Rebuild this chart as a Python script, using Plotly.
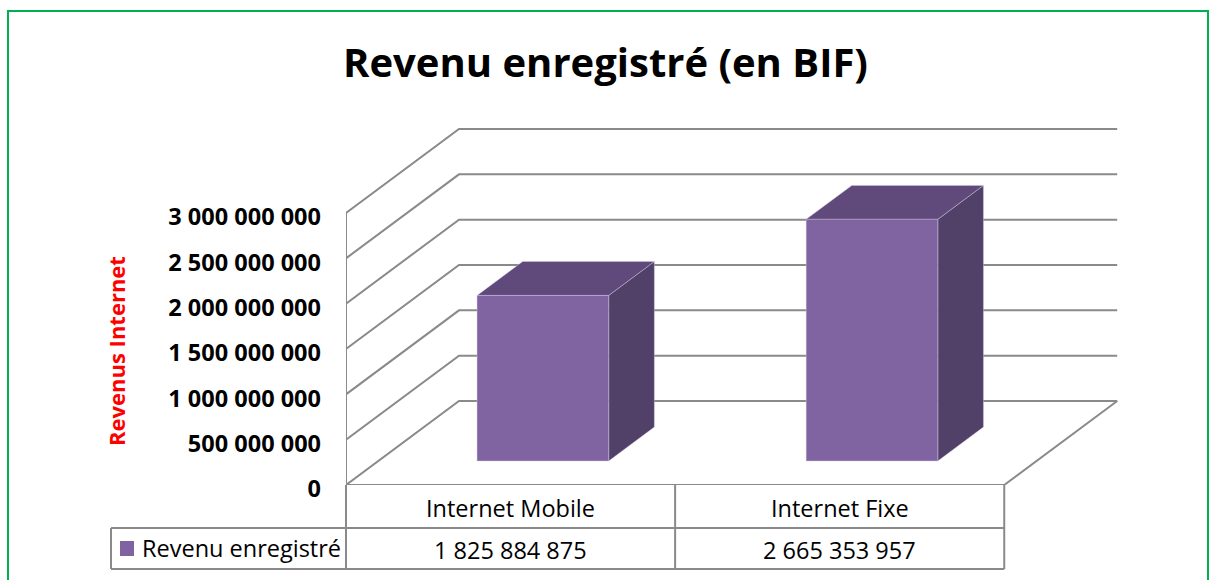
import plotly.graph_objects as go

# ---------------- data ----------------
categories = ["Internet Mobile", "Internet Fixe"]
revenue = [1825884875, 2665353957]
series_name = "Revenu enregistré"
tick_values = [0, 500000000, 1000000000, 1500000000, 2000000000, 2500000000, 3000000000]
title_text = "Revenu enregistré (en BIF)"
axis_title = "Revenus Internet"

# ---------------- layout geometry ----------------
W, H = 1211, 580
L, R, T, B = 346, 85, 120, 95
PW = W - L - R            # plot width in px
PH = H - T - B            # plot height in px
XR = 2.37                 # x range in category units
PX_PER_UNIT = PW / XR
K = 272 / 3e9             # px per value unit
YMAX = PH / K
DX = 113 / PX_PER_UNIT    # depth offset along x (category units)
DY = 84 / K               # depth offset along y (value units)
D0, D1 = 0.286, 0.69      # bar depth range (fraction of full depth)
BAR_L, BAR_R = 0.3, 0.7   # bar span within category slot

GRID = "#8A8A8A"
FRONT = "#8064A2"
TOP = "#604A7B"
SIDE = "#514068"
FONT = "Open Sans"
TXT = 23.5
LW = 2


def fmt(v):
    return f"{v:,}".replace(",", " ")


def pxx(px):
    return (px - L) / PW


def pxy(py):
    return (H - B - py) / PH


fig = go.Figure()

# walls: gridlines on left wall + back wall
gx, gy = [], []
for v in tick_values:
    gx += [0, DX, len(categories) + DX, None]
    gy += [v, v + DY, v + DY, None]
# front vertical edge of left wall
gx += [0, 0, None]
gy += [0, tick_values[-1], None]
# floor front and right edges
gx += [0, len(categories), len(categories) + DX, None]
gy += [0, 0, DY, None]
fig.add_trace(go.Scatter(x=gx, y=gy, mode="lines", line=dict(color=GRID, width=LW),
                         hoverinfo="skip", showlegend=False))

# 3D bars
for i, v in enumerate(revenue):
    x0, x1 = i + BAR_L, i + BAR_R
    fx0, fx1 = x0 + D0 * DX, x1 + D0 * DX
    bx0, bx1 = x0 + D1 * DX, x1 + D1 * DX
    fy0, fy1 = D0 * DY, v + D0 * DY
    by0, by1 = D1 * DY, v + D1 * DY
    edge = dict(color="rgba(215,205,230,0.7)", width=0.6)
    # side
    fig.add_trace(go.Scatter(x=[fx1, bx1, bx1, fx1, fx1], y=[fy0, by0, by1, fy1, fy0],
                             fill="toself", fillcolor=SIDE, mode="lines", line=edge,
                             hoverinfo="skip", showlegend=False))
    # top
    fig.add_trace(go.Scatter(x=[fx0, fx1, bx1, bx0, fx0], y=[fy1, fy1, by1, by1, fy1],
                             fill="toself", fillcolor=TOP, mode="lines", line=edge,
                             hoverinfo="skip", showlegend=False))
    # front
    fig.add_trace(go.Scatter(x=[fx0, fx1, fx1, fx0, fx0], y=[fy0, fy0, fy1, fy1, fy0],
                             fill="toself", fillcolor=FRONT, mode="lines", line=edge,
                             hoverinfo="skip", showlegend=False))

# ---------------- data table ----------------
ROW1_TOP, ROW1_BOT, ROW2_BOT = 485, 528, 569
LEG_LEFT = 111
shapes = []
tline = dict(color=GRID, width=LW)
for c in range(len(categories) + 1):
    shapes.append(dict(type="line", xref="paper", yref="paper",
                       x0=c / XR, x1=c / XR, y0=pxy(ROW1_TOP), y1=pxy(ROW2_BOT), line=tline))
for row_y in (ROW1_BOT, ROW2_BOT):
    shapes.append(dict(type="line", xref="paper", yref="paper",
                       x0=pxx(LEG_LEFT), x1=len(categories) / XR, y0=pxy(row_y), y1=pxy(row_y),
                       line=tline))
shapes.append(dict(type="line", xref="paper", yref="paper",
                   x0=pxx(LEG_LEFT), x1=pxx(LEG_LEFT), y0=pxy(ROW1_BOT), y1=pxy(ROW2_BOT), line=tline))
# legend key square
shapes.append(dict(type="rect", xref="paper", yref="paper",
                   x0=pxx(120), x1=pxx(134), y0=pxy(556), y1=pxy(541),
                   fillcolor=FRONT, line=dict(width=0)))
# green outer border
shapes.append(dict(type="rect", xref="paper", yref="paper",
                   x0=pxx(8), x1=pxx(1208), y0=pxy(600), y1=pxy(11),
                   line=dict(color="#00B050", width=2), fillcolor="rgba(0,0,0,0)", layer="below"))

annotations = []
for i, (cat, v) in enumerate(zip(categories, revenue)):
    annotations.append(dict(x=(i + 0.5) / XR, y=pxy((ROW1_TOP + ROW1_BOT) / 2 + 1), xref="paper", yref="paper",
                            text=cat, showarrow=False, font=dict(family=FONT, size=TXT, color="black"),
                            xanchor="center", yanchor="middle"))
    annotations.append(dict(x=(i + 0.5) / XR, y=pxy((ROW1_BOT + ROW2_BOT) / 2 + 1), xref="paper", yref="paper",
                            text=fmt(v), showarrow=False, font=dict(family=FONT, size=TXT, color="black"),
                            xanchor="center", yanchor="middle"))
annotations.append(dict(x=pxx(140), y=pxy(548), xref="paper", yref="paper", text=series_name,
                        showarrow=False, font=dict(family=FONT, size=TXT, color="black"),
                        xanchor="left", yanchor="middle"))
annotations.append(dict(x=pxx(116), y=pxy(351), xref="paper", yref="paper",
                        text=f"<b>{axis_title}</b>", textangle=-90, showarrow=False,
                        font=dict(family=FONT, size=22, color="#FF0000"),
                        xanchor="center", yanchor="middle"))

fig.update_layout(
    width=W, height=H,
    margin=dict(l=L, r=R, t=T, b=B, autoexpand=False),
    paper_bgcolor="white", plot_bgcolor="white",
    title=dict(text=f"<b>{title_text}</b>", x=0.5, xanchor="center", xref="container",
               y=1 - 63 / H, yanchor="middle", yref="container",
               font=dict(family=FONT, size=40, color="black")),
    xaxis=dict(range=[0, XR], showgrid=False, zeroline=False, showline=False,
               showticklabels=False, ticks="", automargin=False, fixedrange=True),
    yaxis=dict(range=[0, YMAX], showgrid=False, zeroline=False, showline=False,
               tickvals=tick_values, ticktext=[fmt(v) for v in tick_values],
               tickfont=dict(family=FONT, size=TXT, color="black", weight="bold"),
               ticks="", ticklabelstandoff=24, ticklabelshift=4,
               automargin=False, fixedrange=True),
    shapes=shapes, annotations=annotations,
    showlegend=False, hovermode=False,
)

fig.write_html("out.html", config={"displayModeBar": False},
               post_script="document.body.style.margin='0';document.body.style.overflow='hidden';")
